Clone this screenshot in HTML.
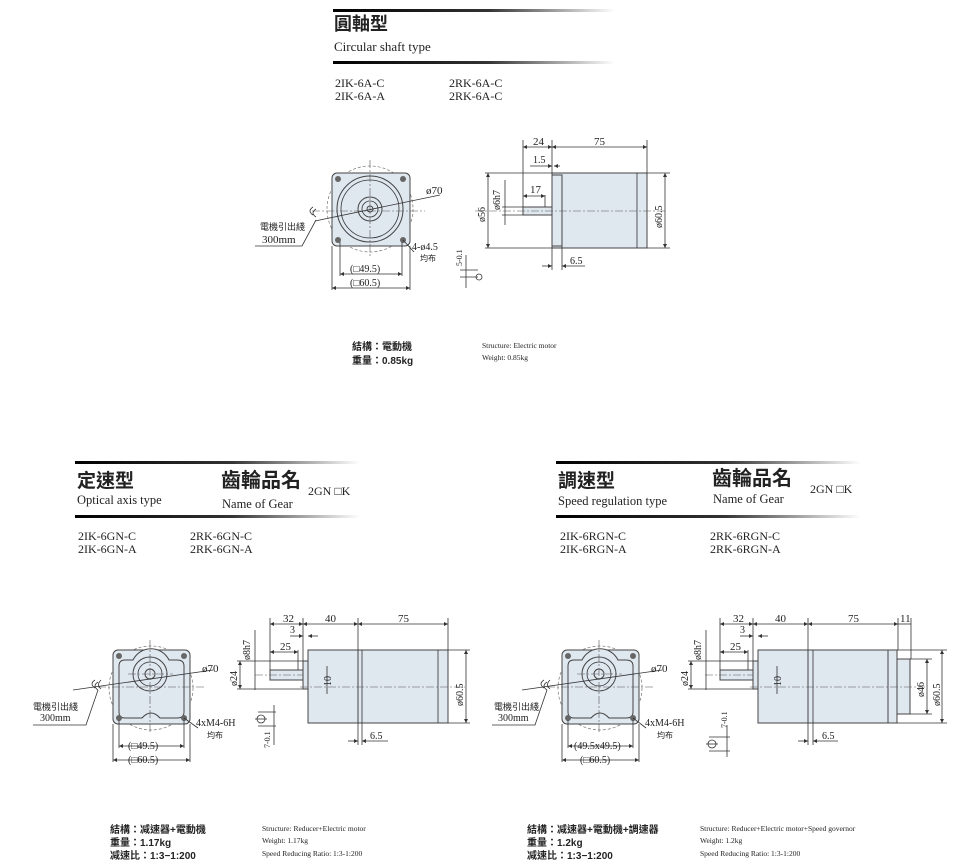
<!DOCTYPE html>
<html><head><meta charset="utf-8"><style>
html,body{margin:0;padding:0;background:#fff}
svg{display:block}
.t{font-family:"Liberation Serif",serif;fill:#222}
.c{font-family:"Liberation Sans","Noto Sans CJK TC",sans-serif;fill:#222}
.ln{stroke:#333;stroke-width:0.8;fill:none}
.th{stroke:#444;stroke-width:1;fill:#dfe7ef}
.cl{stroke:#555;stroke-width:0.6;stroke-dasharray:8 2 2 2;fill:none}
.dc{stroke:#777;stroke-width:0.7;stroke-dasharray:3 2;fill:none}
</style></head><body>
<svg width="961" height="864" viewBox="0 0 961 864" xmlns="http://www.w3.org/2000/svg">
<defs>
<linearGradient id="g" x1="0" x2="1" y1="0" y2="0"><stop offset="0" stop-color="#000"/><stop offset="0.55" stop-color="#333"/><stop offset="1" stop-color="#fff"/></linearGradient>
<marker id="a" viewBox="0 0 6 6" refX="6" refY="3" markerWidth="5" markerHeight="5" orient="auto-start-reverse"><path d="M0,0L6,3L0,6z" fill="#333"/></marker>
<g id="gearfront">
  <circle cx="38" cy="38" r="42" class="dc"/>
  <rect x="0" y="0" width="77" height="74" rx="5" class="th"/>
  <path d="M6,16 Q6,10 12,10 L20,10 A20,20 0 0 1 56,10 L64,10 Q71,10 71,16 L71,62 Q71,68 64,68 L47,68 Q38,58 29,68 L12,68 Q6,68 6,62 Z" class="th"/>
  <circle cx="37" cy="24" r="17" class="th"/>
  <circle cx="37" cy="24" r="12" class="ln"/>
  <circle cx="37" cy="24" r="5" class="th"/>
  <circle cx="6" cy="6" r="3" fill="#666"/><circle cx="71" cy="6" r="3" fill="#666"/>
  <circle cx="6" cy="68" r="3" fill="#666"/><circle cx="71" cy="68" r="3" fill="#666"/>
  <line x1="-15" y1="37" x2="92" y2="37" class="cl"/>
  <line x1="37" y1="-10" x2="37" y2="84" class="cl"/>
  <line x1="15" y1="24" x2="60" y2="24" class="cl"/>
  <line x1="0" y1="74" x2="0" y2="112" class="ln"/><line x1="77" y1="74" x2="77" y2="112" class="ln"/>
  <line x1="6" y1="70" x2="6" y2="98" class="ln"/><line x1="71" y1="70" x2="71" y2="98" class="ln"/>
  <line x1="6" y1="96" x2="71" y2="96" class="ln" marker-start="url(#a)" marker-end="url(#a)"/>
  <line x1="0" y1="110" x2="77" y2="110" class="ln" marker-start="url(#a)" marker-end="url(#a)"/>
  <line x1="-40" y1="40" x2="100" y2="20" class="ln"/>
  <path d="M-18,30 q-6,4 0,8 M-15,32 q-6,4 0,8 M-12,30 q-5,5 0,9" class="ln"/>
</g>
</defs>

<!-- ===== TOP ===== -->
<rect x="333" y="9" width="282" height="3" fill="url(#g)"/>
<text x="334" y="30" class="c" font-size="18" font-weight="bold">圓軸型</text>
<text x="334" y="51" class="t" font-size="13">Circular shaft type</text>
<rect x="333" y="61" width="282" height="3" fill="url(#g)"/>
<text x="335" y="87" class="t" font-size="12">2IK-6A-C</text>
<text x="335" y="100" class="t" font-size="12">2IK-6A-A</text>
<text x="449" y="87" class="t" font-size="12">2RK-6A-C</text>
<text x="449" y="100" class="t" font-size="12">2RK-6A-C</text>

<!-- top front -->
<circle cx="370" cy="209" r="43" class="dc"/>
<rect x="332" y="173" width="78" height="73" rx="5" class="th"/>
<circle cx="370" cy="209" r="33" class="th"/>
<circle cx="370" cy="209" r="29" class="ln"/>
<circle cx="370" cy="209" r="12" class="th"/>
<circle cx="370" cy="209" r="8" class="ln"/>
<circle cx="370" cy="209" r="3" class="th"/>
<circle cx="338" cy="179" r="3" fill="#666"/><circle cx="403" cy="179" r="3" fill="#666"/>
<circle cx="338" cy="240" r="3" fill="#666"/><circle cx="403" cy="240" r="3" fill="#666"/>
<line x1="312" y1="211" x2="425" y2="211" class="cl"/>
<line x1="370" y1="160" x2="370" y2="258" class="cl"/>
<line x1="315" y1="221" x2="440" y2="195" class="ln"/>
<text x="426" y="194" class="t" font-size="11">ø70</text>
<path d="M313,207 q-6,4 0,8 M316,209 q-6,4 0,8" class="ln"/>
<text x="260" y="230" class="c" font-size="9">電機引出綫</text>
<text x="262" y="243" class="t" font-size="11">300mm</text>
<polyline points="255,246 302,246 316,220" class="ln"/>
<line x1="403" y1="240" x2="414" y2="252" class="ln"/>
<text x="412" y="250" class="t" font-size="10">4-ø4.5</text>
<text x="420" y="261" class="c" font-size="8">均布</text>
<line x1="332" y1="246" x2="332" y2="290" class="ln"/><line x1="410" y1="246" x2="410" y2="290" class="ln"/>
<line x1="340" y1="242" x2="340" y2="276" class="ln"/><line x1="402" y1="242" x2="402" y2="276" class="ln"/>
<line x1="340" y1="274" x2="402" y2="274" class="ln" marker-start="url(#a)" marker-end="url(#a)"/>
<line x1="332" y1="288" x2="410" y2="288" class="ln" marker-start="url(#a)" marker-end="url(#a)"/>
<text x="350" y="272" class="t" font-size="10">(□49.5)</text>
<text x="350" y="286" class="t" font-size="10">(□60.5)</text>
<!-- key symbol -->
<line x1="466" y1="255" x2="466" y2="288" class="ln"/><line x1="460" y1="270" x2="478" y2="270" class="ln"/>
<line x1="460" y1="277" x2="478" y2="277" class="ln"/><circle cx="479" cy="277" r="3" class="ln"/>
<text x="462" y="266" class="t" font-size="8" transform="rotate(-90 462 266)">5-0.1</text>

<!-- top side -->
<rect x="552" y="173" width="95" height="75" class="th"/>
<rect x="552" y="175" width="10" height="71" class="th"/>
<line x1="637" y1="173" x2="637" y2="248" class="ln"/>
<rect x="523" y="207" width="29" height="8" class="th"/>
<line x1="475" y1="211" x2="665" y2="211" class="cl"/>
<line x1="523" y1="140" x2="523" y2="207" class="ln"/><line x1="552" y1="140" x2="552" y2="173" class="ln"/>
<line x1="647" y1="140" x2="647" y2="173" class="ln"/>
<line x1="523" y1="147" x2="552" y2="147" class="ln" marker-start="url(#a)" marker-end="url(#a)"/>
<line x1="552" y1="147" x2="647" y2="147" class="ln" marker-start="url(#a)" marker-end="url(#a)"/>
<text x="533" y="145" class="t" font-size="11">24</text><text x="594" y="145" class="t" font-size="11">75</text>
<line x1="530" y1="166" x2="552" y2="166" class="ln" marker-end="url(#a)"/>
<line x1="560" y1="166" x2="554" y2="166" class="ln" marker-end="url(#a)"/>
<text x="533" y="163" class="t" font-size="10">1.5</text>
<line x1="545" y1="195" x2="545" y2="207" class="ln"/>
<line x1="523" y1="196" x2="545" y2="196" class="ln" marker-start="url(#a)" marker-end="url(#a)"/>
<text x="530" y="193" class="t" font-size="11">17</text>
<line x1="485" y1="173" x2="552" y2="173" class="ln"/><line x1="485" y1="248" x2="552" y2="248" class="ln"/>
<line x1="488" y1="173" x2="488" y2="248" class="ln" marker-start="url(#a)" marker-end="url(#a)"/>
<text x="485" y="222" class="t" font-size="10" transform="rotate(-90 485 222)">ø56</text>
<line x1="502" y1="207" x2="523" y2="207" class="ln"/><line x1="502" y1="215" x2="523" y2="215" class="ln"/>
<line x1="505" y1="180" x2="505" y2="225" class="ln"/>
<text x="500" y="210" class="t" font-size="10" transform="rotate(-90 500 210)">ø6h7</text>
<line x1="647" y1="173" x2="670" y2="173" class="ln"/><line x1="647" y1="248" x2="670" y2="248" class="ln"/>
<line x1="665" y1="173" x2="665" y2="248" class="ln" marker-start="url(#a)" marker-end="url(#a)"/>
<text x="662" y="228" class="t" font-size="10" transform="rotate(-90 662 228)">ø60.5</text>
<line x1="552" y1="248" x2="552" y2="270" class="ln"/><line x1="562" y1="246" x2="562" y2="270" class="ln"/>
<line x1="542" y1="266" x2="552" y2="266" class="ln" marker-end="url(#a)"/>
<line x1="585" y1="266" x2="562" y2="266" class="ln" marker-end="url(#a)"/>
<text x="570" y="264" class="t" font-size="10">6.5</text>

<text x="352" y="350" class="c" font-size="10" font-weight="bold">結構：電動機</text>
<text x="352" y="364" class="c" font-size="10" font-weight="bold">重量：0.85kg</text>
<text x="482" y="348" class="t" font-size="7.5">Structure: Electric motor</text>
<text x="482" y="360" class="t" font-size="7.5">Weight: 0.85kg</text>

<!-- ===== BOTTOM LEFT ===== -->
<rect x="75" y="461" width="285" height="3" fill="url(#g)"/>
<text x="77" y="487" class="c" font-size="19" font-weight="bold">定速型</text>
<text x="221" y="487" class="c" font-size="20" font-weight="bold">齒輪品名</text>
<text x="308" y="495" class="t" font-size="12">2GN □K</text>
<text x="77" y="504" class="t" font-size="12.5">Optical axis type</text>
<text x="222" y="508" class="t" font-size="12.5">Name of Gear</text>
<rect x="75" y="515" width="285" height="3" fill="url(#g)"/>
<text x="78" y="540" class="t" font-size="12">2IK-6GN-C</text>
<text x="78" y="553" class="t" font-size="12">2IK-6GN-A</text>
<text x="190" y="540" class="t" font-size="12">2RK-6GN-C</text>
<text x="190" y="553" class="t" font-size="12">2RK-6GN-A</text>

<g transform="translate(113,650)"><use href="#gearfront"/></g>
<text x="202" y="672" class="t" font-size="11">ø70</text>
<text x="33" y="710" class="c" font-size="9">電機引出綫</text>
<text x="40" y="721" class="t" font-size="10">300mm</text>
<polyline points="33,725 86,725 98,690" class="ln"/>
<line x1="184" y1="718" x2="198" y2="728" class="ln"/>
<text x="196" y="726" class="t" font-size="10">4xM4-6H</text>
<text x="207" y="738" class="c" font-size="8">均布</text>
<text x="128" y="749" class="t" font-size="10">(□49.5)</text>
<text x="128" y="763" class="t" font-size="10">(□60.5)</text>
<!-- key -->
<circle cx="261" cy="719" r="4" class="ln"/><line x1="255" y1="719" x2="267" y2="719" class="ln"/>
<line x1="258" y1="712" x2="276" y2="712" class="ln"/><line x1="258" y1="726" x2="276" y2="726" class="ln"/>
<line x1="274" y1="705" x2="274" y2="745" class="ln"/>
<text x="270" y="748" class="t" font-size="8" transform="rotate(-90 270 748)">7-0.1</text>

<!-- side -->
<rect x="358" y="650" width="90" height="73" class="th"/>
<line x1="362" y1="650" x2="362" y2="723" class="ln"/><line x1="438" y1="650" x2="438" y2="723" class="ln"/>
<rect x="308" y="650" width="50" height="73" class="th"/>
<rect x="303" y="661" width="5" height="28" class="th"/>
<rect x="270" y="670" width="33" height="10" class="th"/>
<line x1="255" y1="675" x2="303" y2="675" class="cl"/>
<line x1="300" y1="687" x2="465" y2="687" class="cl"/>
<line x1="270" y1="618" x2="270" y2="670" class="ln"/><line x1="303" y1="618" x2="303" y2="661" class="ln"/>
<line x1="358" y1="618" x2="358" y2="650" class="ln"/><line x1="448" y1="618" x2="448" y2="650" class="ln"/>
<line x1="270" y1="624" x2="303" y2="624" class="ln" marker-start="url(#a)" marker-end="url(#a)"/>
<line x1="303" y1="624" x2="358" y2="624" class="ln" marker-start="url(#a)" marker-end="url(#a)"/>
<line x1="358" y1="624" x2="448" y2="624" class="ln" marker-start="url(#a)" marker-end="url(#a)"/>
<text x="283" y="622" class="t" font-size="11">32</text><text x="325" y="622" class="t" font-size="11">40</text><text x="398" y="622" class="t" font-size="11">75</text>
<line x1="290" y1="636" x2="303" y2="636" class="ln" marker-end="url(#a)"/>
<line x1="318" y1="636" x2="308" y2="636" class="ln" marker-end="url(#a)"/>
<text x="290" y="633" class="t" font-size="10">3</text>
<line x1="298" y1="650" x2="298" y2="670" class="ln"/>
<line x1="270" y1="652" x2="298" y2="652" class="ln" marker-start="url(#a)" marker-end="url(#a)"/>
<text x="280" y="650" class="t" font-size="11">25</text>
<line x1="237" y1="661" x2="303" y2="661" class="ln"/><line x1="237" y1="689" x2="303" y2="689" class="ln"/>
<line x1="240" y1="661" x2="240" y2="689" class="ln" marker-start="url(#a)" marker-end="url(#a)"/>
<text x="237" y="686" class="t" font-size="10" transform="rotate(-90 237 686)">ø24</text>
<line x1="255" y1="630" x2="255" y2="690" class="ln"/>
<text x="250" y="660" class="t" font-size="10" transform="rotate(-90 250 660)">ø8h7</text>
<line x1="327" y1="666" x2="327" y2="694" class="ln"/>
<text x="331" y="686" class="t" font-size="10" transform="rotate(-90 331 686)">10</text>
<line x1="448" y1="650" x2="470" y2="650" class="ln"/><line x1="448" y1="723" x2="470" y2="723" class="ln"/>
<line x1="466" y1="650" x2="466" y2="723" class="ln" marker-start="url(#a)" marker-end="url(#a)"/>
<text x="463" y="706" class="t" font-size="10" transform="rotate(-90 463 706)">ø60.5</text>
<line x1="358" y1="723" x2="358" y2="745" class="ln"/><line x1="362" y1="723" x2="362" y2="745" class="ln"/>
<line x1="348" y1="741" x2="358" y2="741" class="ln" marker-end="url(#a)"/>
<line x1="388" y1="741" x2="362" y2="741" class="ln" marker-end="url(#a)"/>
<text x="370" y="739" class="t" font-size="10">6.5</text>

<text x="110" y="833" class="c" font-size="10" font-weight="bold">結構：减速器+電動機</text>
<text x="110" y="846" class="c" font-size="10" font-weight="bold">重量：1.17kg</text>
<text x="110" y="859" class="c" font-size="10" font-weight="bold">减速比：1:3−1:200</text>
<text x="262" y="831" class="t" font-size="7.5">Structure: Reducer+Electric motor</text>
<text x="262" y="843" class="t" font-size="7.5">Weight: 1.17kg</text>
<text x="262" y="856" class="t" font-size="7.5">Speed Reducing Ratio: 1:3-1:200</text>

<!-- ===== BOTTOM RIGHT ===== -->
<rect x="556" y="461" width="305" height="3" fill="url(#g)"/>
<text x="558" y="487" class="c" font-size="19" font-weight="bold">調速型</text>
<text x="712" y="485" class="c" font-size="20" font-weight="bold">齒輪品名</text>
<text x="810" y="493" class="t" font-size="12">2GN □K</text>
<text x="558" y="505" class="t" font-size="12.5">Speed regulation type</text>
<text x="713" y="503" class="t" font-size="12.5">Name of Gear</text>
<rect x="556" y="515" width="305" height="3" fill="url(#g)"/>
<text x="560" y="540" class="t" font-size="12">2IK-6RGN-C</text>
<text x="560" y="553" class="t" font-size="12">2IK-6RGN-A</text>
<text x="710" y="540" class="t" font-size="12">2RK-6RGN-C</text>
<text x="710" y="553" class="t" font-size="12">2RK-6RGN-A</text>

<g transform="translate(562,650)"><use href="#gearfront"/></g>
<text x="651" y="672" class="t" font-size="11">ø70</text>
<text x="494" y="710" class="c" font-size="9">電機引出綫</text>
<text x="498" y="721" class="t" font-size="10">300mm</text>
<polyline points="492,725 535,725 547,690" class="ln"/>
<line x1="633" y1="718" x2="646" y2="728" class="ln"/>
<text x="645" y="726" class="t" font-size="10">4xM4-6H</text>
<text x="657" y="738" class="c" font-size="8">均布</text>
<text x="574" y="749" class="t" font-size="10">(49.5x49.5)</text>
<text x="580" y="763" class="t" font-size="10">(□60.5)</text>
<circle cx="712" cy="744" r="4" class="ln"/><line x1="706" y1="744" x2="718" y2="744" class="ln"/>
<line x1="709" y1="737" x2="730" y2="737" class="ln"/><line x1="709" y1="751" x2="730" y2="751" class="ln"/>
<line x1="727" y1="725" x2="727" y2="757" class="ln"/>
<text x="727" y="728" class="t" font-size="8" transform="rotate(-90 727 728)">7-0.1</text>

<rect x="897" y="659" width="13" height="55" class="th"/>
<rect x="888" y="650" width="9" height="73" class="th"/>
<rect x="808" y="650" width="80" height="73" class="th"/>
<line x1="813" y1="650" x2="813" y2="723" class="ln"/>
<rect x="758" y="650" width="50" height="73" class="th"/>
<rect x="753" y="661" width="5" height="28" class="th"/>
<rect x="720" y="670" width="33" height="10" class="th"/>
<line x1="705" y1="675" x2="753" y2="675" class="cl"/>
<line x1="750" y1="687" x2="925" y2="687" class="cl"/>
<line x1="720" y1="618" x2="720" y2="670" class="ln"/><line x1="753" y1="618" x2="753" y2="661" class="ln"/>
<line x1="808" y1="618" x2="808" y2="650" class="ln"/><line x1="898" y1="618" x2="898" y2="650" class="ln"/>
<line x1="911" y1="618" x2="911" y2="659" class="ln"/>
<line x1="720" y1="624" x2="753" y2="624" class="ln" marker-start="url(#a)" marker-end="url(#a)"/>
<line x1="753" y1="624" x2="808" y2="624" class="ln" marker-start="url(#a)" marker-end="url(#a)"/>
<line x1="808" y1="624" x2="898" y2="624" class="ln" marker-start="url(#a)" marker-end="url(#a)"/>
<line x1="898" y1="624" x2="911" y2="624" class="ln"/>
<text x="733" y="622" class="t" font-size="11">32</text><text x="775" y="622" class="t" font-size="11">40</text><text x="848" y="622" class="t" font-size="11">75</text><text x="900" y="622" class="t" font-size="11">11</text>
<line x1="740" y1="636" x2="753" y2="636" class="ln" marker-end="url(#a)"/>
<line x1="768" y1="636" x2="758" y2="636" class="ln" marker-end="url(#a)"/>
<text x="740" y="633" class="t" font-size="10">3</text>
<line x1="748" y1="650" x2="748" y2="670" class="ln"/>
<line x1="720" y1="652" x2="748" y2="652" class="ln" marker-start="url(#a)" marker-end="url(#a)"/>
<text x="730" y="650" class="t" font-size="11">25</text>
<line x1="688" y1="661" x2="753" y2="661" class="ln"/><line x1="688" y1="689" x2="753" y2="689" class="ln"/>
<line x1="691" y1="661" x2="691" y2="689" class="ln" marker-start="url(#a)" marker-end="url(#a)"/>
<text x="688" y="686" class="t" font-size="10" transform="rotate(-90 688 686)">ø24</text>
<line x1="706" y1="630" x2="706" y2="690" class="ln"/>
<text x="701" y="660" class="t" font-size="10" transform="rotate(-90 701 660)">ø8h7</text>
<line x1="777" y1="666" x2="777" y2="694" class="ln"/>
<text x="781" y="686" class="t" font-size="10" transform="rotate(-90 781 686)">10</text>
<line x1="910" y1="659" x2="932" y2="659" class="ln"/><line x1="910" y1="714" x2="932" y2="714" class="ln"/>
<line x1="927" y1="659" x2="927" y2="714" class="ln" marker-start="url(#a)" marker-end="url(#a)"/>
<text x="924" y="697" class="t" font-size="10" transform="rotate(-90 924 697)">ø46</text>
<line x1="897" y1="650" x2="947" y2="650" class="ln"/><line x1="897" y1="723" x2="947" y2="723" class="ln"/>
<line x1="942" y1="650" x2="942" y2="723" class="ln" marker-start="url(#a)" marker-end="url(#a)"/>
<text x="940" y="706" class="t" font-size="10" transform="rotate(-90 940 706)">ø60.5</text>
<line x1="808" y1="723" x2="808" y2="745" class="ln"/><line x1="813" y1="723" x2="813" y2="745" class="ln"/>
<line x1="798" y1="741" x2="808" y2="741" class="ln" marker-end="url(#a)"/>
<line x1="838" y1="741" x2="813" y2="741" class="ln" marker-end="url(#a)"/>
<text x="822" y="739" class="t" font-size="10">6.5</text>

<text x="527" y="833" class="c" font-size="10" font-weight="bold">結構：减速器+電動機+調速器</text>
<text x="527" y="846" class="c" font-size="10" font-weight="bold">重量：1.2kg</text>
<text x="527" y="859" class="c" font-size="10" font-weight="bold">减速比：1:3−1:200</text>
<text x="700" y="831" class="t" font-size="7.5">Structure: Reducer+Electric motor+Speed governor</text>
<text x="700" y="843" class="t" font-size="7.5">Weight: 1.2kg</text>
<text x="700" y="856" class="t" font-size="7.5">Speed Reducing Ratio: 1:3-1:200</text>
</svg>
</body></html>
